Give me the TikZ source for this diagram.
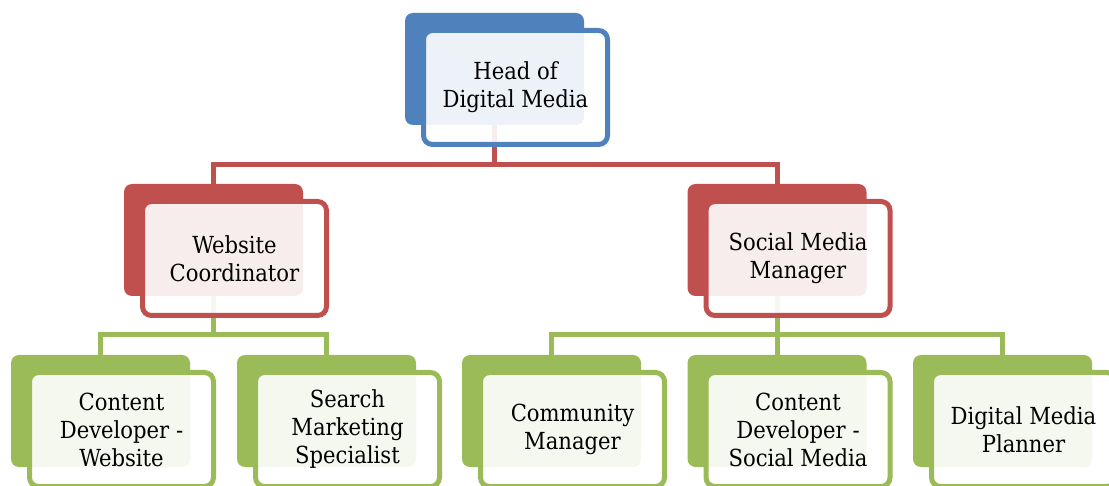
\documentclass[tikz,border=0pt]{standalone}
\usepackage{fontspec}
\setmainfont{DejaVu Serif Condensed}
\usetikzlibrary{calc,backgrounds}
\definecolor{cblue}{HTML}{4F81BD}
\definecolor{cred}{HTML}{C0504D}
\definecolor{cgreen}{HTML}{9BBB59}
\tikzset{
  backbox/.style={draw=none, fill=#1, rounded corners=8pt, minimum width=179pt, minimum height=112pt, inner sep=0pt},
  frontbox/.style={draw=#1, line width=5pt, fill=white, fill opacity=0.9, draw opacity=1, text opacity=1,
    rounded corners=9pt, minimum width=184pt, minimum height=114pt, inner sep=0pt, align=center,
    font=\fontsize{23.5}{28}\selectfont, text=black},
  conn/.style={draw=#1, line width=5pt},
}
\begin{document}
\begin{tikzpicture}[x=1pt,y=-1pt]
\useasboundingbox (0,0) rectangle (1109,486);
\clip (0,0) rectangle (1109,486);
\node[backbox=cblue] (h) at (494.5,69) {};
\node[frontbox=cblue] (hf) at ($(h)+(21,18.5)$) {Head of\\Digital Media};
\node[backbox=cred] (wc) at (213.5,240) {};
\node[frontbox=cred] (wcf) at ($(wc)+(21,18.5)$) {Website\\Coordinator};
\node[backbox=cred] (sm) at (777,240) {};
\node[frontbox=cred] (smf) at ($(sm)+(21,18.5)$) {Social Media\\Manager};
\node[backbox=cgreen] (b1) at (100.5,411) {};
\node[frontbox=cgreen] (b1f) at ($(b1)+(21,18.5)$) {Content\\Developer -\\Website};
\node[backbox=cgreen] (b2) at (326.5,411) {};
\node[frontbox=cgreen] (b2f) at ($(b2)+(21,18.5)$) {Search\\Marketing\\Specialist};
\node[backbox=cgreen] (b3) at (551.5,411) {};
\node[frontbox=cgreen] (b3f) at ($(b3)+(21,18.5)$) {Community\\Manager};
\node[backbox=cgreen] (b4) at (777,411) {};
\node[frontbox=cgreen] (b4f) at ($(b4)+(21,18.5)$) {Content\\Developer -\\Social Media};
\node[backbox=cgreen] (b5) at (1002.5,411) {};
\node[frontbox=cgreen] (b5f) at ($(b5)+(21,18.5)$) {Digital Media\\Planner};
\coordinate (rbar) at (0,164.5);
\coordinate (gbar) at (0,335);
\begin{scope}[on background layer]
\draw[conn=cred] (h.south) -- (h.south |- rbar) -| (wc.north);
\draw[conn=cred] (h.south |- rbar) -| (sm.north);
\draw[conn=cgreen] (wc.south) -- (wc.south |- gbar) -| (b1.north);
\draw[conn=cgreen] (wc.south |- gbar) -| (b2.north);
\draw[conn=cgreen] (sm.south) -- (sm.south |- gbar) -| (b3.north);
\draw[conn=cgreen] (sm.south |- gbar) -| (b5.north);
\draw[conn=cgreen] (sm.south |- gbar) -- (b4.north);
\end{scope}
\end{tikzpicture}
\end{document}
